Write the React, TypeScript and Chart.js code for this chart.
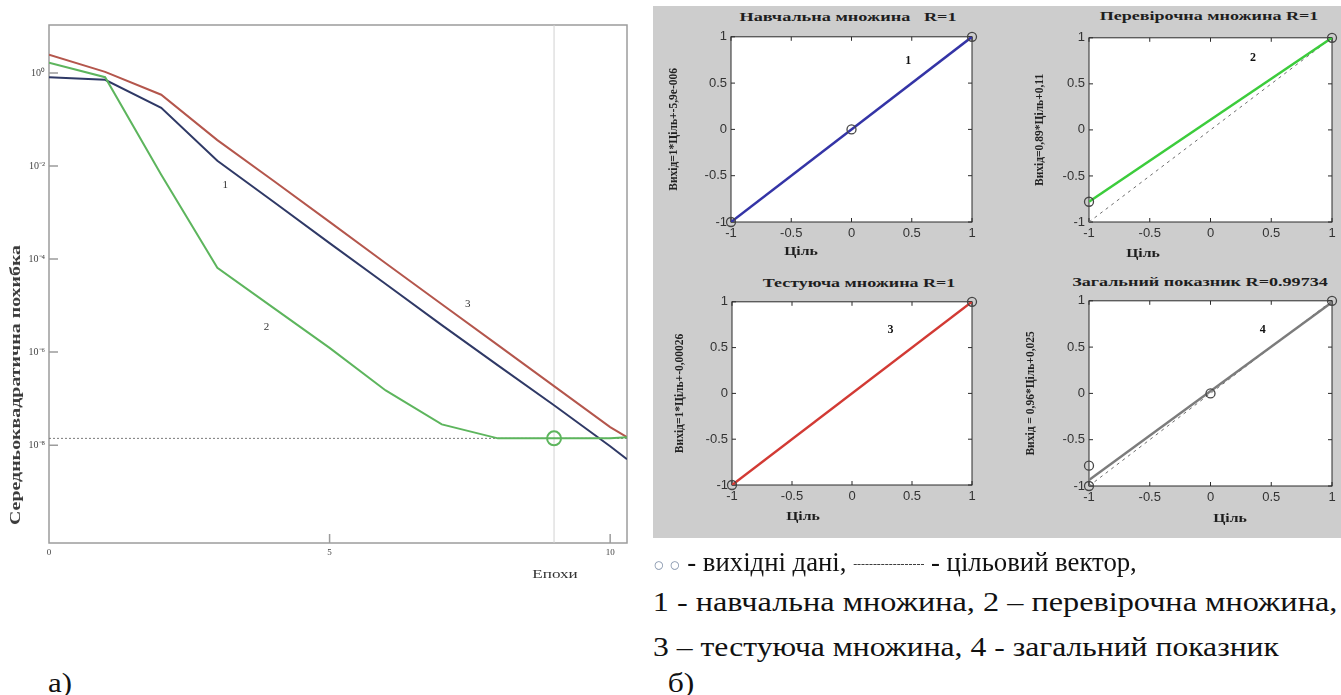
import React, { useEffect, useLayoutEffect, useRef, useState } from "react";
import { Chart, registerables } from "chart.js";
Chart.register(...registerables);

// ---------------- (a) training curves (MSE vs epochs, log scale) ----------------
const epochs = [0, 1, 2, 3, 4, 5, 6, 7, 8, 9, 10, 10.3];
const trainErr = [0.81, 0.71, 0.178, 0.0129, 1.7e-3, 2.2e-4, 2.9e-5, 3.8e-6, 5.2e-7, 7.2e-8, 9.5e-9, 5.0e-9];
const validErr = [1.66, 0.81, 6.5e-3, 6.5e-5, 8.9e-6, 1.23e-6, 1.5e-7, 2.8e-8, 1.4e-8, 1.4e-8, 1.4e-8, 1.48e-8];
const testErr = [2.45, 1.05, 0.34, 0.036, 4.8e-3, 6.3e-4, 8.1e-5, 1.07e-5, 1.41e-6, 1.86e-7, 2.45e-8, 1.48e-8];
const bestEpoch = 9;
const goalErr = 1.4e-8;
const errMin = 7.9e-11;
const errMax = 10.7;
const epochMax = 10.3;
const errTicks = [1, 1e-2, 1e-4, 1e-6, 1e-8];
const errTickLabels = ["10⁰", "10⁻²", "10⁻⁴", "10⁻⁶", "10⁻⁸"];
const epochTicks = [0, 5, 10];
const epochTickLabels = ["0", "5", "10"];
const curveLabels = ["1", "2", "3"];
const curveLabelX = [3.14, 3.875, 7.46];
const curveLabelY = [3.9e-3, 3.5e-6, 1.1e-5];

// ---------------- (б) regression plots ----------------
const targetX = [-1, 1];
const fit1Y = [-1, 1];
const fit2Y = [-0.78, 1];
const fit3Y = [-1, 1];
const fit4Y = [-0.935, 0.985];
const pts1X = [-1, 0, 1];
const pts1Y = [-1, 0, 1];
const pts2X = [-1, 1];
const pts2Y = [-0.78, 1];
const pts3X = [-1, 1];
const pts3Y = [-1, 1];
const pts4X = [-1, -1, 0, 1];
const pts4Y = [-0.78, -1, 0, 1];
const regTicks = [-1, -0.5, 0, 0.5, 1];

const SERIF = '"Liberation Serif", "Times New Roman", serif';
const SANS = '"Liberation Sans", Arial, sans-serif';

type Lbl = { x: number; y: number; text: string };

function framePlugin(cfg: {
  fill?: string;
  stroke: string;
  lineWidth: number;
  tickLen: number;
  xTicks: number[];
  yTicks: number[];
  sides: string[];
  labels: Lbl[];
  labelFont: string;
  labelColor: string;
}) {
  return {
    id: "frameMarks",
    beforeDraw(chart: any) {
      if (!cfg.fill) return;
      const { ctx, chartArea: a } = chart;
      ctx.save();
      ctx.fillStyle = cfg.fill;
      ctx.fillRect(a.left, a.top, a.right - a.left, a.bottom - a.top);
      ctx.restore();
    },
    beforeDatasetsDraw(chart: any) {
      const { ctx, chartArea: a, scales } = chart;
      const L = cfg.tickLen;
      ctx.save();
      ctx.strokeStyle = cfg.stroke;
      ctx.lineWidth = cfg.lineWidth;
      ctx.strokeRect(a.left, a.top, a.right - a.left, a.bottom - a.top);
      ctx.beginPath();
      for (const v of cfg.xTicks) {
        const px = scales.x.getPixelForValue(v);
        if (cfg.sides.includes("bottom")) {
          ctx.moveTo(px, a.bottom);
          ctx.lineTo(px, a.bottom - L);
        }
        if (cfg.sides.includes("top")) {
          ctx.moveTo(px, a.top);
          ctx.lineTo(px, a.top + L);
        }
      }
      for (const v of cfg.yTicks) {
        const py = scales.y.getPixelForValue(v);
        if (cfg.sides.includes("left")) {
          ctx.moveTo(a.left, py);
          ctx.lineTo(a.left + L, py);
        }
        if (cfg.sides.includes("right")) {
          ctx.moveTo(a.right, py);
          ctx.lineTo(a.right - L, py);
        }
      }
      ctx.stroke();
      ctx.restore();
    },
    afterDatasetsDraw(chart: any) {
      const { ctx, scales } = chart;
      ctx.save();
      ctx.font = cfg.labelFont;
      ctx.fillStyle = cfg.labelColor;
      ctx.textAlign = "center";
      ctx.textBaseline = "middle";
      for (const l of cfg.labels) {
        ctx.fillText(l.text, scales.x.getPixelForValue(l.x), scales.y.getPixelForValue(l.y));
      }
      ctx.restore();
    },
  };
}

function buildLeft(ML: number, MT: number, MR: number, MB: number) {
  const pts = (ys: number[]) => epochs.map((x, i) => ({ x, y: ys[i] }));
  const green = "#5db55d";
  const blue = "#2f3966";
  const red = "#b4564c";
  const labels: Lbl[] = curveLabels.map((t, i) => ({ x: curveLabelX[i], y: curveLabelY[i], text: t }));
  return {
    type: "line",
    data: {
      datasets: [
        {
          label: "best",
          data: [{ x: bestEpoch, y: goalErr }],
          showLine: false,
          pointRadius: 7,
          pointBorderWidth: 2,
          pointBorderColor: green,
          pointBackgroundColor: "rgba(0,0,0,0)",
          clip: false,
        },
        { label: "2", data: pts(validErr), borderColor: green, borderWidth: 2, pointRadius: 0, tension: 0 },
        { label: "1", data: pts(trainErr), borderColor: blue, borderWidth: 2, pointRadius: 0, tension: 0 },
        { label: "3", data: pts(testErr), borderColor: red, borderWidth: 2, pointRadius: 0, tension: 0 },
        {
          label: "goal",
          data: [{ x: 0, y: goalErr }, { x: epochMax, y: goalErr }],
          borderColor: "#7a7a7a",
          borderWidth: 1,
          borderDash: [2, 2],
          pointRadius: 0,
        },
        {
          label: "bestline",
          data: [{ x: bestEpoch, y: errMin }, { x: bestEpoch, y: errMax }],
          borderColor: "#d2d2d2",
          borderWidth: 1,
          pointRadius: 0,
        },
      ],
    },
    options: {
      responsive: false,
      animation: false,
      events: [],
      layout: { padding: { left: 0, top: MT, right: MR, bottom: 0 } },
      plugins: { legend: { display: false }, tooltip: { enabled: false }, title: { display: false } },
      scales: {
        x: {
          type: "linear",
          min: 0,
          max: epochMax,
          grid: { display: false, drawTicks: false },
          border: { display: false },
          afterBuildTicks: (s: any) => {
            s.ticks = epochTicks.map((v) => ({ value: v }));
          },
          ticks: {
            autoSkip: false,
            maxRotation: 0,
            padding: 4,
            color: "#444",
            font: { family: SERIF, size: 9 },
            callback: (_v: any, i: number) => epochTickLabels[i],
          },
          afterFit: (s: any) => {
            s.height = MB;
          },
        },
        y: {
          type: "logarithmic",
          min: errMin,
          max: errMax,
          grid: { display: false, drawTicks: false },
          border: { display: false },
          afterBuildTicks: (s: any) => {
            s.ticks = errTicks.map((v) => ({ value: v }));
          },
          ticks: {
            autoSkip: false,
            padding: 4,
            color: "#444",
            font: { family: SERIF, size: 10 },
            callback: (_v: any, i: number) => errTickLabels[i],
          },
          afterFit: (s: any) => {
            s.width = ML;
          },
        },
      },
    },
    plugins: [
      framePlugin({
        stroke: "#9c9c9c",
        lineWidth: 1.5,
        tickLen: 9,
        xTicks: [5, 10],
        yTicks: errTicks,
        sides: ["left", "bottom"],
        labels,
        labelFont: `11px ${SERIF}`,
        labelColor: "#333",
      }),
    ],
  };
}

function buildReg(p: {
  ML: number;
  MT: number;
  MR: number;
  MB: number;
  yTitle: string;
  titlePad: number;
  fitY: number[];
  ptsX: number[];
  ptsY: number[];
  color: string;
  label: Lbl;
}) {
  const { ML, MT, MR, MB } = p;
  return {
    type: "line",
    data: {
      datasets: [
        {
          label: "data",
          data: p.ptsX.map((x, i) => ({ x, y: p.ptsY[i] })),
          showLine: false,
          pointRadius: 4.5,
          pointBorderWidth: 1.3,
          pointBorderColor: "#454545",
          pointBackgroundColor: "rgba(0,0,0,0)",
          clip: false,
        },
        {
          label: "fit",
          data: targetX.map((x, i) => ({ x, y: p.fitY[i] })),
          borderColor: p.color,
          borderWidth: 2.5,
          pointRadius: 0,
        },
        {
          label: "target",
          data: targetX.map((x) => ({ x, y: x })),
          borderColor: "#6e6e6e",
          borderWidth: 1,
          borderDash: [3, 4],
          pointRadius: 0,
        },
      ],
    },
    options: {
      responsive: false,
      animation: false,
      events: [],
      layout: { padding: { left: 0, top: MT, right: MR, bottom: 0 } },
      plugins: { legend: { display: false }, tooltip: { enabled: false }, title: { display: false } },
      scales: {
        x: {
          type: "linear",
          min: -1,
          max: 1,
          grid: { display: false, drawTicks: false },
          border: { display: false },
          afterBuildTicks: (s: any) => {
            s.ticks = regTicks.map((v) => ({ value: v }));
          },
          ticks: {
            autoSkip: false,
            maxRotation: 0,
            padding: 4,
            color: "#333",
            font: { family: SANS, size: 13 },
            callback: (v: any) => String(v),
          },
          afterFit: (s: any) => {
            s.height = MB;
          },
        },
        y: {
          type: "linear",
          min: -1,
          max: 1,
          grid: { display: false, drawTicks: false },
          border: { display: false },
          afterBuildTicks: (s: any) => {
            s.ticks = regTicks.map((v) => ({ value: v }));
          },
          title: {
            display: true,
            text: p.yTitle,
            color: "#222",
            font: { family: SERIF, size: 11.5, weight: "bold" },
            padding: { top: p.titlePad, bottom: 0 },
          },
          ticks: {
            autoSkip: false,
            padding: 4,
            color: "#333",
            font: { family: SANS, size: 13 },
            callback: (v: any) => String(v),
          },
          afterFit: (s: any) => {
            s.width = ML;
          },
        },
      },
    },
    plugins: [
      framePlugin({
        fill: "#ffffff",
        stroke: "#2a2a2a",
        lineWidth: 1,
        tickLen: 4,
        xTicks: regTicks,
        yTicks: regTicks,
        sides: ["left", "bottom", "top", "right"],
        labels: [p.label],
        labelFont: `bold 12px ${SERIF}`,
        labelColor: "#111",
      }),
    ],
  };
}

function ChartCanvas(props: { left: number; top: number; width: number; height: number; build: () => any }) {
  const ref = useRef<HTMLCanvasElement>(null);
  useEffect(() => {
    const chart = new Chart(ref.current as HTMLCanvasElement, props.build());
    return () => chart.destroy();
  }, []);
  const { left, top, width, height } = props;
  return (
    <canvas
      ref={ref}
      width={width}
      height={height}
      style={{ position: "absolute", left, top, width, height }}
    />
  );
}

function Stretch(props: {
  cx: number;
  cy: number;
  w: number;
  rotate?: number;
  style?: React.CSSProperties;
  children: React.ReactNode;
}) {
  const ref = useRef<HTMLSpanElement>(null);
  const [k, setK] = useState(1);
  useLayoutEffect(() => {
    const el = ref.current;
    if (!el) return;
    const nat = el.offsetWidth;
    if (nat > 0) setK(props.w / nat);
  }, [props.w]);
  return (
    <div style={{ position: "absolute", left: props.cx, top: props.cy, width: 0, height: 0 }}>
      <span
        ref={ref}
        style={{
          position: "absolute",
          left: 0,
          top: 0,
          whiteSpace: "nowrap",
          lineHeight: 1,
          transform: `translate(-50%,-50%) rotate(${props.rotate || 0}deg) scaleX(${k})`,
          ...props.style,
        }}
      >
        {props.children}
      </span>
    </div>
  );
}

const titleStyle: React.CSSProperties = { fontFamily: SERIF, fontWeight: "bold", fontSize: 12, color: "#1e1e1e" };
const capStyle: React.CSSProperties = { fontFamily: SERIF, fontSize: 27, color: "#111" };

export default function App() {
  return (
    <div
      style={{
        position: "fixed",
        left: 0,
        top: 0,
        width: 1341,
        height: 695,
        background: "#ffffff",
        overflow: "hidden",
        fontFamily: SERIF,
      }}
    >
      {/* (a) */}
      <ChartCanvas left={0} top={0} width={640} height={600} build={() => buildLeft(49, 25, 13, 57)} />
      <Stretch cx={16} cy={385} w={280} rotate={-90} style={{ fontFamily: SERIF, fontWeight: "bold", fontSize: 14, color: "#3a3a3a" }}>
        Середньоквадратична похибка
      </Stretch>
      <Stretch cx={555} cy={573} w={46} style={{ fontFamily: SERIF, fontSize: 13, color: "#333" }}>
        Епохи
      </Stretch>
      <Stretch cx={60} cy={683} w={24} style={capStyle}>
        а)
      </Stretch>

      {/* (б) */}
      <div style={{ position: "absolute", left: 653, top: 6, width: 688, height: 532, background: "#cdcdcd" }} />
      <ChartCanvas
        left={653}
        top={25}
        width={331}
        height={220}
        build={() =>
          buildReg({
            ML: 78, MT: 7, MR: 12, MB: 23,
            yTitle: "Вихід=1*Ціль+-5,9e-006",
            titlePad: 14.4,
            fitY: fit1Y, ptsX: pts1X, ptsY: pts1Y,
            color: "#3434a6",
            label: { x: 0.47, y: 0.74, text: "1" },
          })
        }
      />
      <ChartCanvas
        left={1011}
        top={26}
        width={330}
        height={219}
        build={() =>
          buildReg({
            ML: 78, MT: 7, MR: 9, MB: 23,
            yTitle: "Вихід=0,89*Ціль+0,11",
            titlePad: 22.4,
            fitY: fit2Y, ptsX: pts2X, ptsY: pts2Y,
            color: "#3ccc3c",
            label: { x: 0.35, y: 0.78, text: "2" },
          })
        }
      />
      <ChartCanvas
        left={653}
        top={290}
        width={331}
        height={220}
        build={() =>
          buildReg({
            ML: 79, MT: 7, MR: 12, MB: 25,
            yTitle: "Вихід=1*Ціль+-0,00026",
            titlePad: 20.4,
            fitY: fit3Y, ptsX: pts3X, ptsY: pts3Y,
            color: "#d23a34",
            label: { x: 0.32, y: 0.69, text: "3" },
          })
        }
      />
      <ChartCanvas
        left={1011}
        top={289}
        width={330}
        height={221}
        build={() =>
          buildReg({
            ML: 78, MT: 7, MR: 9, MB: 24,
            yTitle: "Вихід = 0,96*Ціль+0,025",
            titlePad: 13.4,
            fitY: fit4Y, ptsX: pts4X, ptsY: pts4Y,
            color: "#7c7c7c",
            label: { x: 0.43, y: 0.69, text: "4" },
          })
        }
      />
      <Stretch cx={848} cy={17} w={217} style={titleStyle}>Навчальна множина&nbsp;&nbsp; R=1</Stretch>
      <Stretch cx={1209} cy={16} w={218} style={titleStyle}>Перевірочна множина R=1</Stretch>
      <Stretch cx={859} cy={283} w={192} style={titleStyle}>Тестуюча множина R=1</Stretch>
      <Stretch cx={1200} cy={282} w={255} style={titleStyle}>Загальний показник R=0.99734</Stretch>
      <Stretch cx={801} cy={251} w={34} style={titleStyle}>Ціль</Stretch>
      <Stretch cx={1143} cy={253} w={34} style={titleStyle}>Ціль</Stretch>
      <Stretch cx={803} cy={516} w={34} style={titleStyle}>Ціль</Stretch>
      <Stretch cx={1230} cy={518} w={34} style={titleStyle}>Ціль</Stretch>

      {/* caption */}
      <Stretch cx={653 + 242} cy={562} w={484} style={capStyle}>
        <span style={{ color: "#8796ad", fontSize: 19 }}>○ ○</span>
        {"  - вихідні дані,  "}
        <span style={{ fontSize: 12, color: "#333", verticalAlign: "middle" }}>------------------</span>
        {"  - цільовий вектор,"}
      </Stretch>
      <Stretch cx={653 + 342} cy={602} w={685} style={capStyle}>
        1 - навчальна множина, 2 – перевірочна множина,
      </Stretch>
      <Stretch cx={653 + 313} cy={647} w={626} style={capStyle}>
        3 – тестуюча множина, 4 - загальний показник
      </Stretch>
      <Stretch cx={681} cy={683} w={27} style={capStyle}>
        б)
      </Stretch>
    </div>
  );
}
